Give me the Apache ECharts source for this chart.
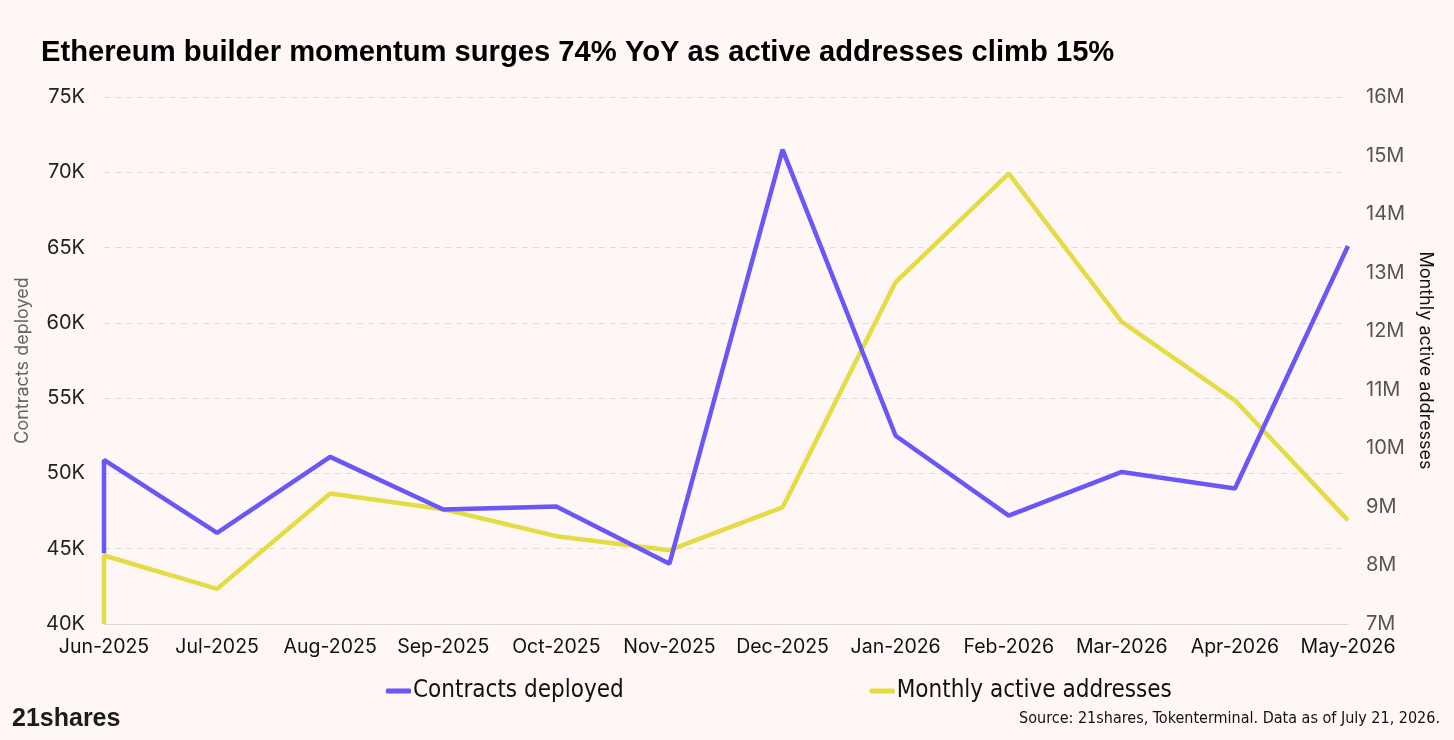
<!DOCTYPE html>
<html lang="en">
<head>
    <meta charset="UTF-8">
    <title>Ethereum builder momentum</title>
    <script src="https://cdn.jsdelivr.net/npm/echarts@6.0.0/dist/echarts.min.js"></script>
    <style>
        html, body { margin: 0; padding: 0; background: #fef7f5; }
        #main { width: 1454px; height: 740px; }
    </style>
</head>
<body>
<div id="main"></div>
<script type="text/javascript">
    // data
    var months = ['Jun-2025', 'Jul-2025', 'Aug-2025', 'Sep-2025', 'Oct-2025', 'Nov-2025',
        'Dec-2025', 'Jan-2026', 'Feb-2026', 'Mar-2026', 'Apr-2026', 'May-2026'];
    var contractsStart = 44700;   // the line starts with a jump on the first month
    var contracts = [50900, 46050, 51100, 47600, 47800, 44000, 71500, 52500, 47200, 50100, 49000, 65100];
    var activeStart = 7000000;
    var active = [8170000, 7600000, 9230000, 8960000, 8500000, 8260000, 8990000, 12840000, 14690000, 12160000, 10820000, 8770000];

    var narrow = '"Liberation Sans Narrow", "DejaVu Sans Condensed", sans-serif';
    var body = 'Inter, Roboto, sans-serif';

    function withStart(start, values) {
        var out = [[0, start]];
        for (var i = 0; i < values.length; i++) {
            out.push([i, values[i]]);
        }
        return out;
    }

    var myChart = echarts.init(document.getElementById('main'));

    var option = {
        backgroundColor: '#fef7f5',
        animation: false,
        title: {
            text: 'Ethereum builder momentum surges 74% YoY as active addresses climb 15%',
            left: 36,
            top: 33,
            textStyle: {fontFamily: '"Liberation Sans", Arial, sans-serif', fontWeight: 'bold', fontSize: 29.2, color: '#000'}
        },
        legend: {
            left: 381,
            top: 674,
            itemWidth: 25,
            itemHeight: 5,
            itemGap: 246,
            icon: 'roundRect',
            textStyle: {fontFamily: narrow, fontSize: 24, color: '#111', padding: [0, 0, 0, -3]},
            data: ['Contracts deployed', 'Monthly active addresses']
        },
        grid: {left: 104, right: 106, top: 97, bottom: 116},
        xAxis: {
            type: 'category',
            data: months,
            boundaryGap: false,
            axisLine: {lineStyle: {color: '#d9d9d9'}},
            axisTick: {show: false},
            axisLabel: {color: '#111', fontFamily: body, fontSize: 19.5, margin: 13, interval: 0}
        },
        yAxis: [{
            type: 'value',
            min: 40000,
            max: 75000,
            interval: 5000,
            name: 'Contracts deployed',
            nameLocation: 'middle',
            nameGap: 72,
            nameTextStyle: {color: '#666', fontFamily: body, fontSize: 18},
            axisLine: {show: false},
            axisTick: {show: false},
            axisLabel: {
                color: '#222', fontFamily: body, fontSize: 20, margin: 19,
                formatter: function (v) { return (v / 1000) + 'K'; }
            },
            splitLine: {lineStyle: {color: '#dddddd', type: [6, 5]}}
        }, {
            type: 'value',
            min: 7000000,
            max: 16000000,
            interval: 1000000,
            position: 'right',
            name: 'Monthly active addresses',
            nameLocation: 'middle',
            nameGap: 67,
            nameRotate: -90,
            nameTextStyle: {color: '#111', fontFamily: body, fontSize: 18},
            axisLine: {show: false},
            axisTick: {show: false},
            axisLabel: {
                color: '#555', fontFamily: body, fontSize: 20, margin: 18,
                formatter: function (v) { return (v / 1000000) + 'M'; }
            },
            splitLine: {show: false}
        }],
        series: [{
            name: 'Contracts deployed',
            type: 'line',
            yAxisIndex: 0,
            data: withStart(contractsStart, contracts),
            symbol: 'none',
            color: '#6b57f7',
            lineStyle: {width: 4.5, color: '#6b57f7'},
            z: 3
        }, {
            name: 'Monthly active addresses',
            type: 'line',
            yAxisIndex: 1,
            data: withStart(activeStart, active),
            symbol: 'none',
            color: '#e4db45',
            lineStyle: {width: 4.5, color: '#e4db45'},
            z: 2
        }],
        graphic: [{
            type: 'text',
            left: 12,
            top: 707,
            style: {text: '21shares', font: 'bold 25px "Liberation Sans", sans-serif', fill: '#1c1c1c'}
        }, {
            type: 'text',
            right: 14,
            top: 711,
            style: {text: 'Source: 21shares, Tokenterminal. Data as of July 21, 2026.', font: '16px ' + narrow, fill: '#111'}
        }]
    };

    myChart.setOption(option);
</script>
</body>
</html>
